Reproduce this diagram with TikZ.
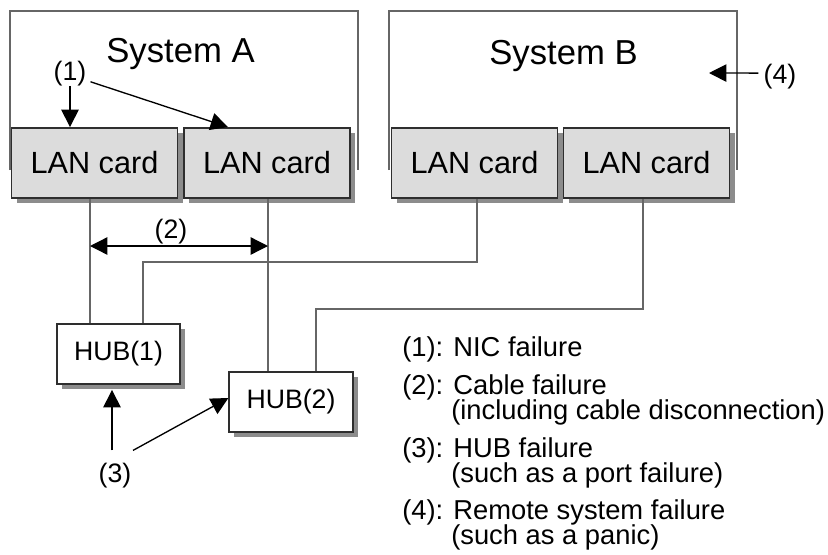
\documentclass[tikz,border=0pt]{standalone}
\usepackage{fontspec}
\setmainfont{Liberation Sans}
\usetikzlibrary{arrows.meta,shadows}
\definecolor{cardfill}{HTML}{DCDCDC}
\definecolor{edgec}{HTML}{2E2E2E}
\definecolor{wirec}{HTML}{666666}
\definecolor{sysc}{HTML}{666666}
\definecolor{shadowc}{HTML}{8C8C8C}
\begin{document}
\begin{tikzpicture}[x=0.75pt,y=-0.75pt,
  sysline/.style={draw=sysc,line width=1.6pt},
  card/.style={draw=edgec,fill=cardfill,line width=1.4pt,minimum width=124.5pt,minimum height=52.5pt,inner sep=0pt,
    font=\fontsize{23pt}{27pt}\selectfont,
    drop shadow={shadow xshift=3.75pt,shadow yshift=-3.75pt,fill=shadowc,opacity=1}},
  hub/.style={draw=edgec,fill=white,line width=1.4pt,minimum width=92.5pt,minimum height=45pt,inner sep=0pt,
    font=\fontsize{20pt}{24pt}\selectfont,
    drop shadow={shadow xshift=3.75pt,shadow yshift=-3.75pt,fill=shadowc,opacity=1}},
  wire/.style={draw=wirec,line width=1.6pt},
  arr/.style={draw=black,line width=1pt,-{Triangle[length=13pt,width=13pt]}},
  biarr/.style={draw=black,line width=1pt,{Triangle[length=13pt,width=13pt]}-{Triangle[length=13pt,width=13pt]}},
  systext/.style={anchor=base,inner sep=0pt,font=\fontsize{26pt}{30pt}\selectfont},
  lbl/.style={anchor=base,inner sep=0pt,font=\fontsize{20pt}{24pt}\selectfont},
  legend/.style={anchor=base west,inner sep=0pt,font=\fontsize{20.5pt}{24pt}\selectfont}
]
\useasboundingbox (0,0) rectangle (828,554);

% System boxes (open at the bottom, hidden by the cards)
\draw[sysline] (10,170) -- (10,11) -- (358,11) -- (358,170);
\draw[sysline] (389,170) -- (389,11) -- (737,11) -- (737,170);
\node[systext] (sysA) at (180.5,62) {System A};
\node[systext] (sysB) at (563.5,64) {System B};

% LAN cards
\node[card] (cardA1) at (94.5,163) {LAN card};
\node[card] (cardA2) at (267,163) {LAN card};
\node[card] (cardB1) at (474.5,163) {LAN card};
\node[card] (cardB2) at (646.5,163) {LAN card};

% HUBs
\node[hub] (hub1) at (118.5,354) {HUB(1)};
\node[hub] (hub2) at (291,402) {HUB(2)};

% Cables
\draw[wire] ([xshift=-3.375pt]cardA1.south) -- ([xshift=-3.375pt]cardA1.south |- hub1.north);
\draw[wire] ([xshift=0.75pt]cardA2.south) -- ([xshift=0.75pt]cardA2.south |- hub2.north);
\draw[wire] ([xshift=18.375pt]hub1.north) -- ++(0,-61) -| ([xshift=1.875pt]cardB1.south);
\draw[wire] ([xshift=18.75pt]hub2.north) -- ++(0,-62) -| ([xshift=-2.625pt]cardB2.south);

% (1)
\node[lbl] (l1) at (70,80) {(1)};
\draw[arr] (l1.south) -- ([xshift=-18.375pt]cardA1.north);
\draw[arr] ([xshift=3pt,yshift=3pt]l1.south east) -- ([xshift=-29.25pt]cardA2.north);

% (2)
\node[lbl] (l2) at (171,238) {(2)};
\coordinate (c2a) at (90,246);
\coordinate (c2b) at (268,246);
\draw[biarr] (c2a) -- (c2b);

% (3)
\node[lbl] (l3) at (115,482) {(3)};
\draw[arr] ([xshift=-2.25pt,yshift=9pt]l3.north) -- ([xshift=-4.875pt,yshift=-3.75pt]hub1.south);
\draw[arr] ([xshift=13.5pt,yshift=9pt]l3.north) -- ([yshift=3pt]hub2.west);

% (4)
\node[lbl] (l4) at (780,83) {(4)};
\coordinate (p4) at (709,73);
\draw[arr] ([xshift=-3.75pt,yshift=2.25pt]l4.west) -- (p4);

% Legend
\node[legend] (g1) at (402,356) {(1): NIC failure};
\node[legend] (g2) at (402,394) {(2): Cable failure};
\node[legend] (g2b) at (451,419) {(including cable disconnection)};
\node[legend] (g3) at (402,457) {(3): HUB failure};
\node[legend] (g3b) at (451,482) {(such as a port failure)};
\node[legend] (g4) at (402,519) {(4): Remote system failure};
\node[legend] (g4b) at (451,544) {(such as a panic)};
\end{tikzpicture}
\end{document}
